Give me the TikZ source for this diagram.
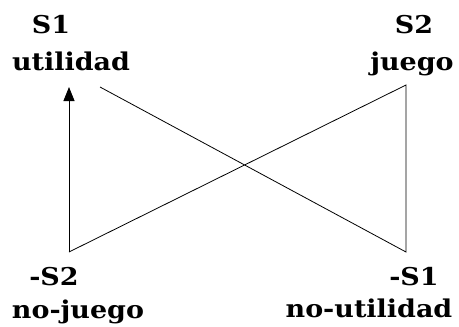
\documentclass[tikz,border=0pt]{standalone}
\usepackage{fontspec}
\setmainfont{DejaVu Serif}
\usepackage{graphicx}
\usetikzlibrary{arrows.meta}
\newcommand{\wtxt}[1]{\scalebox{1.1}[1]{#1}}
\begin{document}
\begin{tikzpicture}[x=1pt,y=-1pt,
  lbl/.style={font=\bfseries\fontsize{24.5}{28}\selectfont, inner sep=0pt, anchor=base},
  ln/.style={line width=0.8pt}]
\useasboundingbox (0,0) rectangle (459,327);
\node[lbl] (s1) at (51,33) {\wtxt{S1}};
\node[lbl] (ut) at (71,70) {\wtxt{utilidad}};
\node[lbl] (s2) at (414,33) {\wtxt{S2}};
\node[lbl] (ju) at (412,70) {\wtxt{juego}};
\node[lbl] (ns2) at (54,285) {\wtxt{-S2}};
\node[lbl] (nju) at (78,318) {\wtxt{no-juego}};
\node[lbl] (ns1) at (414,285) {\wtxt{-S1}};
\node[lbl] (nut) at (369,317) {\wtxt{no-utilidad}};
\coordinate (a) at (69,252);
\coordinate (b) at (69,87);
\coordinate (c) at (100,87);
\coordinate (d) at (406,252);
\coordinate (e) at (406,85);
\draw[ln, -{Triangle[width=11pt,length=14pt]}] (a) -- (b);
\draw[ln] (c) -- (d) -- (e) -- (a);
\end{tikzpicture}
\end{document}
